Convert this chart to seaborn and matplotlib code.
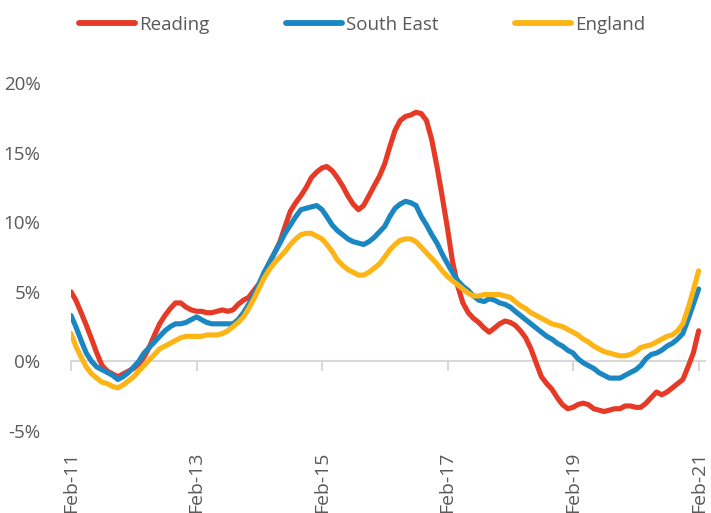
import numpy as np
import pandas as pd
import matplotlib
matplotlib.use("Agg")
import matplotlib.pyplot as plt
import seaborn as sns

# ---- data (annual % change, monthly Feb-11 .. Feb-21) ----
reading = [5.0, 4.4, 3.5, 2.6, 1.6, 0.6, -0.3, -0.7, -0.9, -1.1,
           -0.9, -0.7, -0.5, -0.2, 0.3, 1.0, 1.9, 2.7, 3.3, 3.8,
           4.2, 4.2, 3.9, 3.7, 3.6, 3.6, 3.5, 3.5, 3.6, 3.7,
           3.6, 3.7, 4.1, 4.4, 4.6, 5.1, 5.6, 6.3, 7.1, 7.8,
           8.6, 9.7, 10.8, 11.4, 11.9, 12.5, 13.2, 13.6, 13.9, 14.0,
           13.7, 13.2, 12.6, 11.9, 11.3, 10.9, 11.2, 11.9, 12.6, 13.3,
           14.2, 15.4, 16.6, 17.3, 17.6, 17.7, 17.9, 17.8, 17.3, 15.9,
           14.0, 11.8, 9.5, 7.2, 5.4, 4.2, 3.5, 3.1, 2.8, 2.4,
           2.1, 2.4, 2.7, 2.9, 2.8, 2.6, 2.2, 1.7, 0.9, -0.1,
           -1.1, -1.6, -2.0, -2.6, -3.1, -3.4, -3.3, -3.1, -3.0, -3.1,
           -3.4, -3.5, -3.6, -3.5, -3.4, -3.4, -3.2, -3.2, -3.3, -3.3,
           -3.0, -2.6, -2.2, -2.4, -2.2, -1.9, -1.6, -1.3, -0.4, 0.6,
           2.2]
south_east = [3.3, 2.5, 1.5, 0.6, 0.0, -0.4, -0.6, -0.8, -1.0, -1.3,
              -1.1, -0.8, -0.4, 0.0, 0.6, 1.0, 1.4, 1.8, 2.2, 2.5,
              2.7, 2.7, 2.8, 3.0, 3.2, 3.0, 2.8, 2.7, 2.7, 2.7,
              2.7, 2.7, 3.0, 3.5, 4.1, 4.8, 5.6, 6.4, 7.1, 7.8,
              8.5, 9.2, 9.8, 10.4, 10.9, 11.0, 11.1, 11.2, 10.9, 10.4,
              9.8, 9.4, 9.1, 8.8, 8.6, 8.5, 8.4, 8.6, 8.9, 9.3,
              9.7, 10.4, 11.0, 11.3, 11.5, 11.4, 11.2, 10.4, 9.8, 9.1,
              8.5, 7.7, 7.0, 6.4, 5.8, 5.4, 5.1, 4.7, 4.4, 4.3,
              4.5, 4.4, 4.2, 4.1, 3.9, 3.6, 3.3, 3.0, 2.7, 2.4,
              2.1, 1.8, 1.6, 1.3, 1.1, 0.8, 0.6, 0.2, -0.1, -0.3,
              -0.5, -0.8, -1.0, -1.2, -1.2, -1.2, -1.0, -0.8, -0.6, -0.3,
              0.2, 0.5, 0.6, 0.8, 1.1, 1.3, 1.6, 2.0, 3.0, 4.1,
              5.2]
england = [2.0, 1.1, 0.3, -0.4, -0.9, -1.2, -1.5, -1.6, -1.8, -1.9,
           -1.7, -1.4, -1.1, -0.7, -0.3, 0.1, 0.5, 0.9, 1.1, 1.3,
           1.5, 1.7, 1.8, 1.8, 1.8, 1.8, 1.9, 1.9, 1.9, 2.0,
           2.2, 2.5, 2.8, 3.2, 3.8, 4.5, 5.3, 6.0, 6.6, 7.1,
           7.5, 7.9, 8.4, 8.8, 9.1, 9.2, 9.2, 9.0, 8.8, 8.4,
           7.9, 7.3, 6.9, 6.6, 6.4, 6.2, 6.2, 6.4, 6.7, 7.0,
           7.5, 8.0, 8.4, 8.7, 8.8, 8.8, 8.6, 8.2, 7.8, 7.4,
           7.0, 6.5, 6.1, 5.8, 5.5, 5.2, 4.9, 4.7, 4.7, 4.8,
           4.8, 4.8, 4.8, 4.7, 4.6, 4.3, 4.0, 3.8, 3.5, 3.3,
           3.1, 2.9, 2.7, 2.6, 2.5, 2.3, 2.1, 1.9, 1.6, 1.4,
           1.1, 0.9, 0.7, 0.6, 0.5, 0.4, 0.4, 0.5, 0.7, 1.0,
           1.1, 1.2, 1.4, 1.6, 1.8, 1.9, 2.2, 2.7, 3.8, 5.1,
           6.5]
series_names = ["Reading", "South East", "England"]
colors = ["#E63A27", "#1B87C2", "#FDB515"]
tick_labels = ["Feb-11", "Feb-13", "Feb-15", "Feb-17", "Feb-19", "Feb-21"]
y_ticks = [-5, 0, 5, 10, 15, 20]

dates = pd.date_range("2011-02-01", periods=len(reading), freq="MS")
df = pd.concat([
    pd.DataFrame({"date": dates, "value": vals, "area": name})
    for name, vals in zip(series_names, [reading, south_east, england])
])

sns.set_style("white")
plt.rcParams["font.family"] = ["Open Sans", "DejaVu Sans"]
text_color = "#595959"
axis_color = "#D9D9D9"

fig = plt.figure(figsize=(7.11, 5.13), dpi=100)
ax = fig.add_axes([71 / 711, 1 - 431 / 513, (705 - 71) / 711, (431 - 83) / 513])

sns.lineplot(data=df, x="date", y="value", hue="area", hue_order=series_names,
             palette=colors, linewidth=3.7, ax=ax, legend=False,
             solid_capstyle="round")

ax.set_ylim(-5, 20)
ax.set_xlim(dates[0], dates[-1] + pd.Timedelta(days=37))
ax.set_yticks(y_ticks)
ax.set_yticklabels([f"{v}%" for v in y_ticks])
tick_dates = [dates[0] + pd.DateOffset(years=2 * i) for i in range(len(tick_labels))]
ax.set_xticks(tick_dates)
ax.set_xticklabels(tick_labels)
ax.tick_params(axis="x", length=0, pad=15, rotation=90, labelsize=14, colors=text_color)
ax.tick_params(axis="y", length=0, pad=22, labelsize=13.5, colors=text_color)
for s in ax.spines.values():
    s.set_visible(False)
ax.set_xlabel("")
ax.set_ylabel("")
ax.grid(False)

# zero line with tick marks
sec = ax.secondary_xaxis(5 / 25)
sec.set_xticks(tick_dates)
sec.set_xticklabels([])
sec.tick_params(axis="x", direction="out", length=7, width=1.5, color=axis_color)
sec.spines["bottom"].set_color(axis_color)
sec.spines["bottom"].set_linewidth(1.5)
for k in ["top", "left", "right"]:
    sec.spines[k].set_visible(False)

handles = [plt.Line2D([], [], color=c, linewidth=4.2, solid_capstyle="round") for c in colors]
leg = fig.legend(handles, series_names, loc="center", bbox_to_anchor=(362 / 711, 1 - 25 / 513),
                 ncol=3, frameon=False, fontsize=13.5, handlelength=3.0,
                 handletextpad=0.2, columnspacing=4.1)
for t in leg.get_texts():
    t.set_color(text_color)

fig.savefig("out.png", dpi=100)
